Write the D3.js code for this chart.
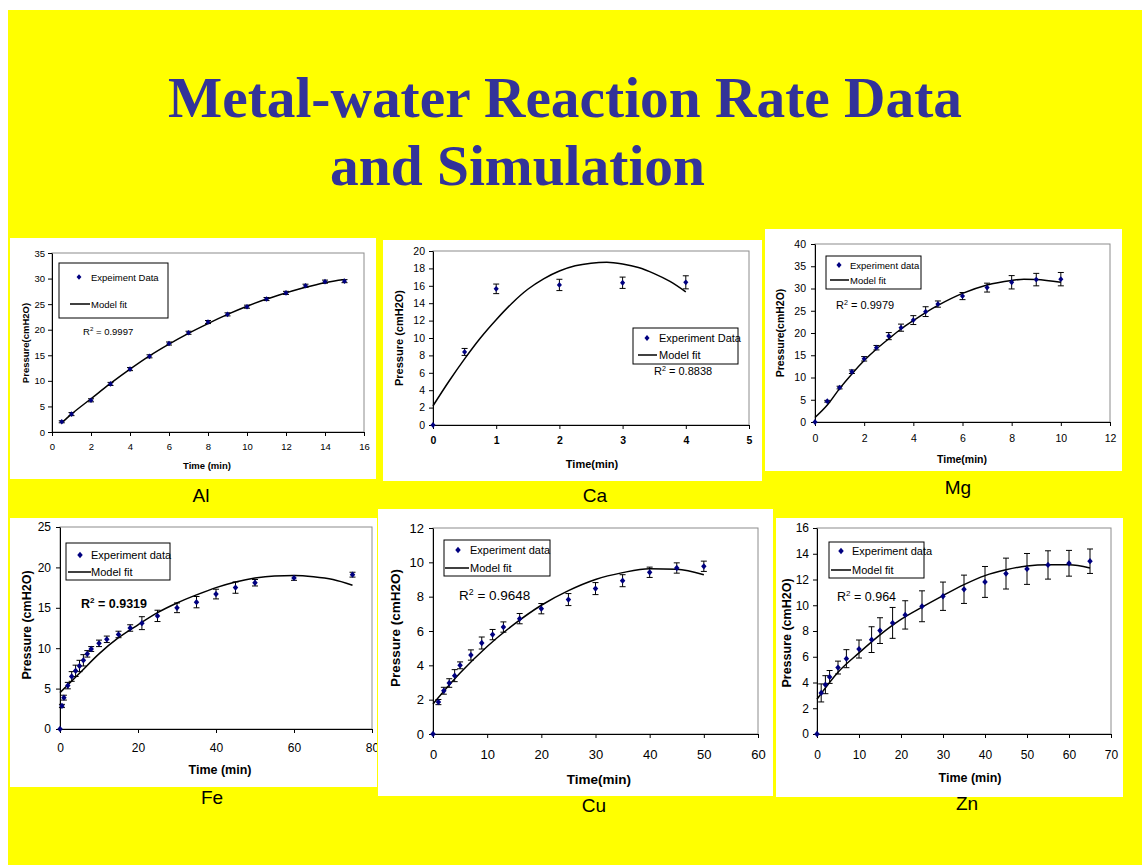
<!DOCTYPE html>
<html>
<head>
<meta charset="utf-8">
<script src="https://cdn.jsdelivr.net/npm/d3@7"></script>
<style>
body{margin:0;background:#fff}
svg{display:block;font-family:Arial,"Liberation Sans",sans-serif}
</style>
</head>
<body>
<script>
// Al
const alTime=[0.5,1,2,3,4,5,6,7,8,9,10,11,12,13,14,15]
const alPressure=[2.0,3.5,6.2,9.4,12.3,14.8,17.3,19.4,21.5,23.0,24.5,26.0,27.2,28.6,29.4,29.5]
const alError=[0.2,0.3,0.3,0.3,0.3,0.3,0.3,0.3,0.3,0.3,0.3,0.3,0.3,0.3,0.3,0.3]
const alFitTime=[0.5,1,2,3,4,5,6,7,8,9,10,11,12,13,14,15]
const alFitPressure=[1.8,3.5,6.5,9.5,12.3,14.9,17.2,19.3,21.2,23.0,24.6,26.0,27.2,28.3,29.2,29.8]
const alXTicks=[0,2,4,6,8,10,12,14,16]
const alYTicks=[0,5,10,15,20,25,30,35]

// Ca
const caTime=[0,0.5,1,2,3,4]
const caPressure=[0,8.4,15.65,16.1,16.35,16.4]
const caError=[0,0.4,0.55,0.65,0.65,0.75]
const caFitTime=[0,0.25,0.5,0.75,1,1.25,1.5,1.75,2,2.25,2.5,2.75,3,3.25,3.5,3.75,4]
const caFitPressure=[2.2,5.0,7.6,10.0,12.1,14.0,15.6,16.8,17.7,18.3,18.6,18.7,18.5,18.1,17.4,16.5,15.3]
const caXTicks=[0,1,2,3,4,5]
const caYTicks=[0,2,4,6,8,10,12,14,16,18,20]

// Mg
const mgTime=[0,0.5,1,1.5,2,2.5,3,3.5,4,4.5,5,6,7,8,9,10]
const mgPressure=[0,4.66,7.74,11.3,14.2,16.7,19.3,21.2,22.9,24.8,26.5,28.3,30.2,31.4,32.0,32.1]
const mgError=[0,0.2,0.3,0.4,0.5,0.5,0.8,0.8,1.0,1.1,0.7,0.8,1.0,1.5,1.4,1.5]
const mgFitTime=[0,0.5,1,1.5,2,2.5,3,3.5,4,4.5,5,6,7,8,8.5,9,10]
const mgFitPressure=[1.0,3.8,7.5,10.8,13.8,16.4,18.7,20.9,22.8,24.6,26.2,28.9,30.8,31.8,32.1,32.0,31.4]
const mgXTicks=[0,2,4,6,8,10,12]
const mgYTicks=[0,5,10,15,20,25,30,35,40]

// Fe
const feTime=[0,0.5,1,2,3,4,5,6,7,8,10,12,15,18,21,25,30,35,40,45,50,60,75]
const fePressure=[0,2.85,3.88,5.37,6.5,7.2,7.8,8.5,9.3,9.9,10.6,11.1,11.7,12.5,13.1,14.0,15.0,15.7,16.7,17.5,18.1,18.7,19.1]
const feError=[0,0.2,0.3,0.4,0.6,0.7,0.7,0.7,0.4,0.3,0.4,0.4,0.4,0.4,0.8,0.7,0.6,0.7,0.6,0.7,0.4,0.3,0.3]
const feFitTime=[0,5,10,15,20,25,30,35,40,45,50,55,60,65,70,75]
const feFitPressure=[4.5,6.9,9.3,11.3,12.9,14.4,15.6,16.6,17.5,18.2,18.7,18.95,19.0,18.85,18.5,17.8]
const feXTicks=[0,20,40,60,80]
const feYTicks=[0,5,10,15,20,25]

// Cu
const cuTime=[0,1,2,3,4,5,7,9,11,13,16,20,25,30,35,40,45,50]
const cuPressure=[0,1.86,2.52,2.97,3.4,4.0,4.6,5.3,5.79,6.23,6.72,7.3,7.83,8.47,8.93,9.42,9.67,9.77]
const cuError=[0,0.15,0.2,0.25,0.35,0.2,0.3,0.35,0.3,0.3,0.3,0.3,0.35,0.35,0.35,0.3,0.3,0.3]
const cuFitTime=[0,5,10,15,20,25,30,35,40,45,50]
const cuFitPressure=[1.75,3.55,5.1,6.4,7.5,8.35,9.0,9.4,9.63,9.6,9.28]
const cuXTicks=[0,10,20,30,40,50,60]
const cuYTicks=[0,2,4,6,8,10,12]

// Zn
const znTime=[0,1,2,3,5,7,10,13,15,18,21,25,30,35,40,45,50,55,60,65]
const znPressure=[0,3.19,3.83,4.43,5.16,5.85,6.6,7.33,8.03,8.63,9.25,9.92,10.7,11.24,11.81,12.46,12.82,13.13,13.26,13.42]
const znError=[0,0.7,0.7,0.5,0.5,0.7,0.7,1.0,1.0,1.2,1.1,1.2,1.1,1.1,1.2,1.2,1.2,1.1,1.0,0.95]
const znFitTime=[0,5,10,15,20,25,30,35,40,45,50,55,60,65]
const znFitPressure=[2.7,4.8,6.3,7.7,8.9,9.85,10.75,11.6,12.3,12.75,13.05,13.15,13.15,12.9]
const znXTicks=[0,10,20,30,40,50,60,70]
const znYTicks=[0,2,4,6,8,10,12,14,16]

const width=1142
const height=865
const svg=d3.select("body").append("svg").attr("width",width).attr("height",height)

svg.append("rect").attr("x",8).attr("y",10).attr("width",width-8).attr("height",height-10).attr("fill","#ffff00")

svg.append("text").attr("x",168).attr("y",117).attr("font-family","'Liberation Serif','Times New Roman',serif")
    .attr("font-weight","bold").attr("font-size",58).attr("fill","#333399")
    .attr("textLength",794).attr("lengthAdjust","spacingAndGlyphs").text("Metal-water Reaction Rate Data")
svg.append("text").attr("x",330).attr("y",185).attr("font-family","'Liberation Serif','Times New Roman',serif")
    .attr("font-weight","bold").attr("font-size",58).attr("fill","#333399")
    .attr("textLength",375).attr("lengthAdjust","spacingAndGlyphs").text("and Simulation")

// excel style diamond, a little taller than wide
const excelDiamond={draw(ctx,size){
    const w=Math.sqrt(size)/2, h=w*1.15
    ctx.moveTo(0,-h);ctx.lineTo(w,0);ctx.lineTo(0,h);ctx.lineTo(-w,0);ctx.closePath()
}}

const panels=[
    {name:"Al",box:[10,238,376,479],plot:[52,364,253,432],time:alTime,pressure:alPressure,error:alError,fitTime:alFitTime,fitPressure:alFitPressure,
     xTicks:alXTicks,yTicks:alYTicks,tickFont:9.5,xTickBold:false,xPad:7,yPad:3,titleFont:9.5,xLabel:"Time (min)",yLabel:"Pressure(cmH2O)",
     xTitle:[207,465],yTitle:[25,343],legend:[59,263,168,318],legendFont:9.5,legendDot:[79,277],legendLine:[70,90,304],legendText:91,dataLabel:"Expeiment Data",
     r2:"0.9997",r2Pos:[83,335],r2Font:9.5,r2Bold:false,markerSize:24,label:[201,495]},
    {name:"Ca",box:[383,240,762,481],plot:[433,749,251,425],time:caTime,pressure:caPressure,error:caError,fitTime:caFitTime,fitPressure:caFitPressure,
     xTicks:caXTicks,yTicks:caYTicks,tickFont:10.5,xTickBold:true,xPad:8,yPad:4,titleFont:11,xLabel:"Time(min)",yLabel:"Pressure (cmH2O)",
     xTitle:[592,464],yTitle:[399,338],legend:[633,328,738,364],legendFont:11,legendDot:[647,338],legendLine:[638,657,355],legendText:659,dataLabel:"Experiment Data",
     r2:"0.8838",r2Pos:[654,375],r2Font:11,r2Bold:false,markerSize:26,label:[595,495]},
    {name:"Mg",box:[765,229,1122,471],plot:[815,1110,244,422],time:mgTime,pressure:mgPressure,error:mgError,fitTime:mgFitTime,fitPressure:mgFitPressure,
     xTicks:mgXTicks,yTicks:mgYTicks,tickFont:10.5,xTickBold:false,xPad:9,yPad:5,titleFont:10.5,xLabel:"Time(min)",yLabel:"Pressure(cmH2O)",
     xTitle:[962,459],yTitle:[780,333],legend:[826,256,921,289],legendFont:9.5,legendDot:[839,265],legendLine:[830,849,280],legendText:850,dataLabel:"Experiment data",
     r2:"0.9979",r2Pos:[836,309],r2Font:11,r2Bold:false,markerSize:26,label:[958,487]},
    {name:"Fe",box:[10,518,377,787],plot:[60,372,527,729],time:feTime,pressure:fePressure,error:feError,fitTime:feFitTime,fitPressure:feFitPressure,
     xTicks:feXTicks,yTicks:feYTicks,tickFont:12,xTickBold:false,xPad:10,yPad:5,titleFont:12.5,xLabel:"Time (min)",yLabel:"Pressure (cmH2O)",
     xTitle:[220,770],yTitle:[27,625],legend:[66,543,170,580],legendFont:11,legendDot:[80,555],legendLine:[68,91,572],legendText:91,dataLabel:"Experiment data",
     r2:"0.9319",r2Pos:[81,608],r2Font:12.5,r2Bold:true,markerSize:30,label:[212,797]},
    {name:"Cu",box:[378,509,773,796],plot:[433,758,528,734],time:cuTime,pressure:cuPressure,error:cuError,fitTime:cuFitTime,fitPressure:cuFitPressure,
     xTicks:cuXTicks,yTicks:cuYTicks,tickFont:13,xTickBold:false,xPad:12,yPad:5,titleFont:13.5,xLabel:"Time(min)",yLabel:"Pressure (cmH2O)",
     xTitle:[599,779],yTitle:[395,628],legend:[444,540,550,576],legendFont:11,legendDot:[458,550],legendLine:[445,469,568],legendText:470,dataLabel:"Experiment data",
     r2:"0.9648",r2Pos:[459,600],r2Font:13.5,r2Bold:false,markerSize:30,label:[594,805]},
    {name:"Zn",box:[776,518,1123,797],plot:[817,1111,528,734],time:znTime,pressure:znPressure,error:znError,fitTime:znFitTime,fitPressure:znFitPressure,
     xTicks:znXTicks,yTicks:znYTicks,tickFont:12,xTickBold:false,xPad:12,yPad:4,titleFont:12.5,xLabel:"Time (min)",yLabel:"Pressure (cmH2O)",
     xTitle:[970,778],yTitle:[787,633],legend:[829,542,924,578],legendFont:11,legendDot:[841,551],legendLine:[831,851,570],legendText:852,dataLabel:"Experiment data",
     r2:"0.964",r2Pos:[837,601],r2Font:12.5,r2Bold:false,markerSize:30,label:[967,803]}
]

function drawPanel(p){
    const clipId="clip-"+p.name
    svg.append("clipPath").attr("id",clipId).append("rect")
        .attr("x",p.box[0]).attr("y",p.box[1]).attr("width",p.box[2]-p.box[0]).attr("height",p.box[3]-p.box[1])
    const g=svg.append("g").attr("clip-path","url(#"+clipId+")")
    g.append("rect").attr("x",p.box[0]).attr("y",p.box[1]).attr("width",p.box[2]-p.box[0]).attr("height",p.box[3]-p.box[1]).attr("fill","#fff")

    const [l,r,t,b]=p.plot
    const x=d3.scaleLinear().domain([p.xTicks[0],p.xTicks[p.xTicks.length-1]]).range([l,r])
    const y=d3.scaleLinear().domain([p.yTicks[0],p.yTicks[p.yTicks.length-1]]).range([b,t])

    g.append("rect").attr("x",l).attr("y",t).attr("width",r-l).attr("height",b-t).attr("fill","none").attr("stroke","#8c8c8c")

    const gx=g.append("g").attr("transform","translate(0,"+b+")")
        .call(d3.axisBottom(x).tickValues(p.xTicks).tickSize(4).tickSizeOuter(0).tickPadding(p.xPad).tickFormat(d3.format("d")))
    const gy=g.append("g").attr("transform","translate("+l+",0)")
        .call(d3.axisLeft(y).tickValues(p.yTicks).tickSize(4).tickSizeOuter(0).tickPadding(p.yPad).tickFormat(d3.format("d")))
    ;[gx,gy].forEach(a=>{
        a.select(".domain").attr("stroke","#000")
        a.selectAll(".tick line").attr("stroke","#000")
        a.selectAll("text").attr("font-size",p.tickFont).attr("font-family","Arial,'Liberation Sans',sans-serif").attr("fill","#000")
    })
    gx.selectAll("text").attr("font-weight",p.xTickBold?"bold":"normal")

    g.append("text").attr("x",p.xTitle[0]).attr("y",p.xTitle[1]).attr("text-anchor","middle").attr("dominant-baseline","central")
        .attr("font-weight","bold").attr("font-size",p.titleFont).text(p.xLabel)
    g.append("text").attr("transform","translate("+p.yTitle[0]+","+p.yTitle[1]+") rotate(-90)").attr("text-anchor","middle")
        .attr("dominant-baseline","central").attr("font-weight","bold").attr("font-size",p.titleFont).text(p.yLabel)

    const line=d3.line().x(d=>x(d[0])).y(d=>y(d[1])).curve(d3.curveMonotoneX)
    g.append("path").datum(d3.zip(p.fitTime,p.fitPressure)).attr("d",line)
        .attr("fill","none").attr("stroke","#000").attr("stroke-width",1.5)

    const pts=p.time.map((tm,i)=>({t:tm,v:p.pressure[i],e:p.error[i]}))
    const bars=pts.filter(d=>d.e>0)
    const eb=g.append("g").attr("stroke","#000").attr("stroke-width",1)
    eb.selectAll("line.stem").data(bars).join("line").attr("class","stem")
        .attr("x1",d=>x(d.t)).attr("x2",d=>x(d.t)).attr("y1",d=>y(d.v-d.e)).attr("y2",d=>y(d.v+d.e))
    eb.selectAll("line.capTop").data(bars).join("line").attr("class","capTop")
        .attr("x1",d=>x(d.t)-3).attr("x2",d=>x(d.t)+3).attr("y1",d=>y(d.v+d.e)).attr("y2",d=>y(d.v+d.e))
    eb.selectAll("line.capBot").data(bars).join("line").attr("class","capBot")
        .attr("x1",d=>x(d.t)-3).attr("x2",d=>x(d.t)+3).attr("y1",d=>y(d.v-d.e)).attr("y2",d=>y(d.v-d.e))

    const marker=d3.symbol(excelDiamond,p.markerSize)
    g.selectAll("path.pt").data(pts).join("path").attr("class","pt").attr("d",marker)
        .attr("transform",d=>"translate("+x(d.t)+","+y(d.v)+")").attr("fill","#000080")

    // legend
    const lg=g.append("g").attr("font-size",p.legendFont)
    lg.append("rect").attr("x",p.legend[0]).attr("y",p.legend[1]).attr("width",p.legend[2]-p.legend[0]).attr("height",p.legend[3]-p.legend[1])
        .attr("fill","#fff").attr("stroke","#000")
    lg.append("path").attr("d",marker).attr("transform","translate("+p.legendDot[0]+","+p.legendDot[1]+")").attr("fill","#000080")
    lg.append("text").attr("x",p.legendText).attr("y",p.legendDot[1]).attr("dominant-baseline","central").text(p.dataLabel)
    lg.append("line").attr("x1",p.legendLine[0]).attr("x2",p.legendLine[1]).attr("y1",p.legendLine[2]).attr("y2",p.legendLine[2])
        .attr("stroke","#000").attr("stroke-width",1.5)
    lg.append("text").attr("x",p.legendText).attr("y",p.legendLine[2]).attr("dominant-baseline","central").text("Model fit")

    const r2=g.append("text").attr("x",p.r2Pos[0]).attr("y",p.r2Pos[1]).attr("font-size",p.r2Font).attr("font-weight",p.r2Bold?"bold":"normal")
    r2.append("tspan").text("R")
    r2.append("tspan").attr("dy",-p.r2Font*0.4).attr("font-size",p.r2Font*0.65).text("2")
    r2.append("tspan").attr("dy",p.r2Font*0.4).text(" = "+p.r2)

    svg.append("text").attr("x",p.label[0]).attr("y",p.label[1]).attr("text-anchor","middle").attr("dominant-baseline","central")
        .attr("font-size",19).attr("fill","#000").text(p.name)
}

panels.forEach(drawPanel)
</script>
</body>
</html>
